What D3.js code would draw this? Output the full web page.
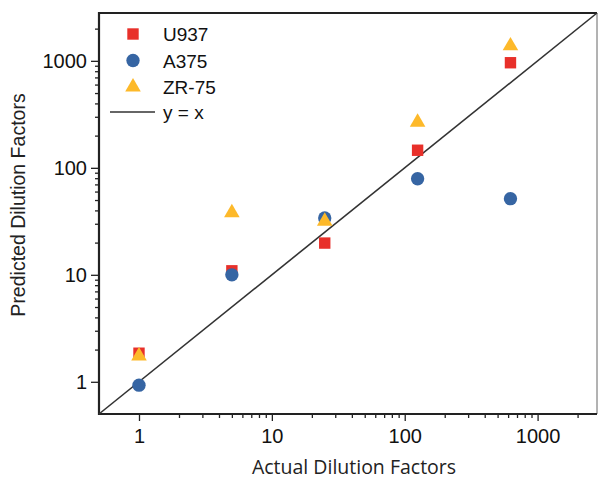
<!DOCTYPE html>
<html>
<head>
<meta charset="utf-8">
<script src="https://cdn.jsdelivr.net/npm/d3@7"></script>
<style>
  body { margin: 0; background: #fff; }
  svg { display: block; }
</style>
</head>
<body>
<svg id="drawing_region"></svg>
<script>
// actual dilution factors
const actual = [1, 5, 25, 125, 625];
// predicted values per cell line
const u937 = [1.85, 10.9, 19.8, 146, 960];
const a375 = [0.93, 10, 34, 79, 51.5];
const zr75 = [1.74, 38, 31.6, 267, 1380];
const seriesNames = ['U937', 'A375', 'ZR-75'];
const tickValues = [1, 10, 100, 1000];

const config = {
    width: 598,
    height: 481,
    margin: {top: 13, right: 1, bottom: 67, left: 99}
};

const colors = {'U937': '#e8302a', 'A375': '#3665a3', 'ZR-75': '#fdb92a'};
const shapes = {'U937': d3.symbolSquare, 'A375': d3.symbolCircle, 'ZR-75': d3.symbolTriangle};
const sizes = {'U937': 130, 'A375': 140, 'ZR-75': 105};

const series = [
    {name: 'U937', values: u937},
    {name: 'A375', values: a375},
    {name: 'ZR-75', values: zr75}
];

const svg = d3.select('#drawing_region')
    .attr('width', config.width)
    .attr('height', config.height);

const inner_width = config.width - config.margin.left - config.margin.right;
const inner_height = config.height - config.margin.top - config.margin.bottom;

const chart = svg.append('g')
    .attr('transform', `translate(${config.margin.left}, ${config.margin.top})`);

const xscale = d3.scaleLog().domain([0.5, 2800]).range([0, inner_width]);
const yscale = d3.scaleLog().domain([0.5, 2800]).range([inner_height, 0]);

// minor ticks 2..9 per decade
const minors = [];
[1, 10, 100, 1000].forEach(dec => {
    for (let k = 2; k <= 9; k++) {
        if (dec * k <= 2800) minors.push(dec * k);
    }
});

const fontTick = 'Liberation Sans, Arial, sans-serif';

// x axis
const xaxis_group = chart.append('g')
    .attr('transform', `translate(0, ${inner_height})`);
xaxis_group.call(d3.axisBottom(xscale).tickValues(minors).tickSize(4).tickFormat(''));
xaxis_group.call(g => g.append('g').call(d3.axisBottom(xscale).tickValues(tickValues).tickSize(7).tickFormat(d3.format('d'))));

// y axis
const yaxis_group = chart.append('g');
yaxis_group.call(d3.axisLeft(yscale).tickValues(minors).tickSize(4).tickFormat(''));
yaxis_group.call(g => g.append('g').call(d3.axisLeft(yscale).tickValues(tickValues).tickSize(8).tickFormat(d3.format('d'))));

chart.selectAll('.domain').remove();
chart.selectAll('.tick line').attr('stroke', '#222').attr('stroke-width', 1.3);
chart.selectAll('.tick text')
    .attr('fill', '#111')
    .style('font-family', fontTick)
    .style('font-size', '20px');
xaxis_group.selectAll('.tick text').attr('dy', '0.95em');
yaxis_group.selectAll('.tick text').attr('dx', '-0.05em');

// frame
chart.append('line')
    .attr('x1', 0).attr('x2', inner_width).attr('y1', 0).attr('y2', 0)
    .attr('stroke', '#222').attr('stroke-width', 2.2);
chart.append('line')
    .attr('x1', inner_width).attr('x2', inner_width).attr('y1', 0).attr('y2', inner_height)
    .attr('stroke', '#666').attr('stroke-width', 1);
chart.append('line')
    .attr('x1', 0).attr('x2', 0).attr('y1', -1).attr('y2', inner_height + 1)
    .attr('stroke', '#222').attr('stroke-width', 2.2);
chart.append('line')
    .attr('x1', 0).attr('x2', inner_width).attr('y1', inner_height).attr('y2', inner_height)
    .attr('stroke', '#222').attr('stroke-width', 2.2);

// y = x line
chart.append('line')
    .attr('x1', xscale(0.5)).attr('y1', yscale(0.5))
    .attr('x2', xscale(2800)).attr('y2', yscale(2800))
    .attr('stroke', '#333').attr('stroke-width', 1.6);

// points
series.forEach(s => {
    chart.append('g').selectAll('path')
        .data(s.values)
        .join('path')
        .attr('d', d3.symbol().type(shapes[s.name]).size(sizes[s.name]))
        .attr('transform', (d, i) => `translate(${xscale(actual[i])}, ${yscale(d)})`)
        .attr('fill', colors[s.name]);
});

// legend
const legend = svg.append('g').attr('transform', 'translate(133, 34)');
seriesNames.forEach((name, i) => {
    const row = legend.append('g').attr('transform', `translate(0, ${i * 26.5})`);
    row.append('path')
        .attr('d', d3.symbol().type(shapes[name]).size(sizes[name]))
        .attr('fill', colors[name]);
    row.append('text')
        .attr('x', 30).attr('y', 7)
        .style('font-family', fontTick)
        .style('font-size', '19px')
        .attr('fill', '#111')
        .text(name);
});
const lineRow = legend.append('g').attr('transform', 'translate(0, 78)');
lineRow.append('line')
    .attr('x1', -23).attr('x2', 22).attr('y1', 0).attr('y2', 0)
    .attr('stroke', '#333').attr('stroke-width', 1.6);
lineRow.append('text')
    .attr('x', 30).attr('y', 7)
    .style('font-family', fontTick)
    .style('font-size', '19px')
    .attr('fill', '#111')
    .text('y = x');

// axis titles
svg.append('text')
    .attr('x', 354)
    .attr('y', 474)
    .style('text-anchor', 'middle')
    .style('font-family', 'Open Sans, sans-serif')
    .style('font-size', '19.5px')
    .attr('fill', '#222')
    .text('Actual Dilution Factors');

svg.append('text')
    .attr('transform', 'rotate(-90)')
    .attr('x', -205)
    .attr('y', 25)
    .style('text-anchor', 'middle')
    .style('font-family', fontTick)
    .style('font-size', '19.5px')
    .attr('fill', '#222')
    .text('Predicted Dilution Factors');
</script>
</body>
</html>
